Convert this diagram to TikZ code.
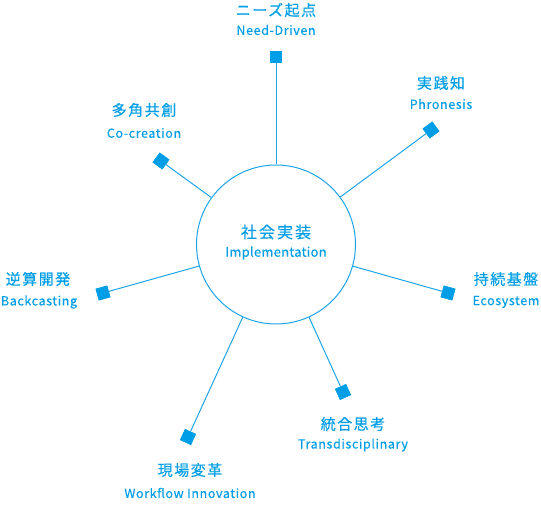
\documentclass[tikz,border=0pt]{standalone}
\usepackage{fontspec}
\setmainfont{Noto Sans CJK JP}
\newfontfamily\jpfont[LetterSpace=10,FakeBold=0.3]{Noto Sans CJK JP}
\newfontfamily\enfont[LetterSpace=5,FakeBold=0.3]{Noto Sans CJK JP}
\newfontfamily\jpfontc[LetterSpace=13,FakeBold=0.3]{Noto Sans CJK JP}
\newfontfamily\enfontc[LetterSpace=2,FakeBold=0.3]{Noto Sans CJK JP}
\definecolor{mainblue}{RGB}{0,158,230}
\definecolor{lineblue}{RGB}{30,165,232}
\tikzset{
  hub/.style={circle, draw=lineblue, line width=1pt, fill=white, minimum size=159pt, inner sep=0pt},
  sq/.style={rectangle, fill=mainblue, minimum size=12pt, inner sep=0pt},
  jplabel/.style={text=mainblue, font=\jpfont\fontsize{15}{15}\selectfont, inner sep=0pt},
  enlabel/.style={text=mainblue, font=\enfont\fontsize{12.5}{12.5}\selectfont, inner sep=0pt},
  jpcenter/.style={text=mainblue, font=\jpfontc\fontsize{16}{16}\selectfont, inner sep=0pt},
  encenter/.style={text=mainblue, font=\enfontc\fontsize{13}{13}\selectfont, inner sep=0pt},
  spoke/.style={draw=lineblue, line width=1pt}
}
\begin{document}
\begin{tikzpicture}[x=1pt,y=-1pt]
\useasboundingbox (0,0) rectangle (541,510);
\node[hub] (c) at (276,244.5) {};
\node[jpcenter] (cj) at (276,232) {社会実装};
\node[encenter] (ce) at (276,253) {Implementation};
% squares
\node[sq] (s1) at (276,57) {};
\node[sq, rotate=36.4] (s2) at (431,130) {};
\node[sq, rotate=54] (s3) at (161,161) {};
\node[sq, rotate=15.7] (s4) at (103,293) {};
\node[sq, rotate=-15.7] (s5) at (448,293) {};
\node[sq, rotate=24.4] (s6) at (343,392) {};
\node[sq, rotate=65.4] (s7) at (188,437) {};
% spokes
\foreach \s in {s1,s2,s3,s4,s5,s6,s7} {
  \path[spoke] (c) -- (\s);
}
\foreach \s/\r in {s1/0,s2/36.4,s3/54,s4/15.7,s5/-15.7,s6/24.4,s7/65.4} {
  \node[sq, rotate=\r] at (\s) {};
}
% labels
\node[jplabel] (j1) at (276,10) {ニーズ起点};
\node[enlabel] (e1) at (276,30) {Need-Driven};
\node[jplabel] (j2) at (441,83) {実践知};
\node[enlabel] (e2) at (441,104) {Phronesis};
\node[jplabel] (j3) at (144,110) {多角共創};
\node[enlabel] (e3) at (144,133) {Co-creation};
\node[jplabel] (j4) at (38,279) {逆算開発};
\node[enlabel] (e4) at (39,302) {Backcasting};
\node[jplabel] (j5) at (506,279) {持続基盤};
\node[enlabel] (e5) at (506,302) {Ecosystem};
\node[jplabel] (j6) at (353,424) {統合思考};
\node[enlabel] (e6) at (353,445) {Transdisciplinary};
\node[jplabel] (j7) at (190,470) {現場変革};
\node[enlabel] (e7) at (190,493) {Workflow Innovation};
\end{tikzpicture}
\end{document}
